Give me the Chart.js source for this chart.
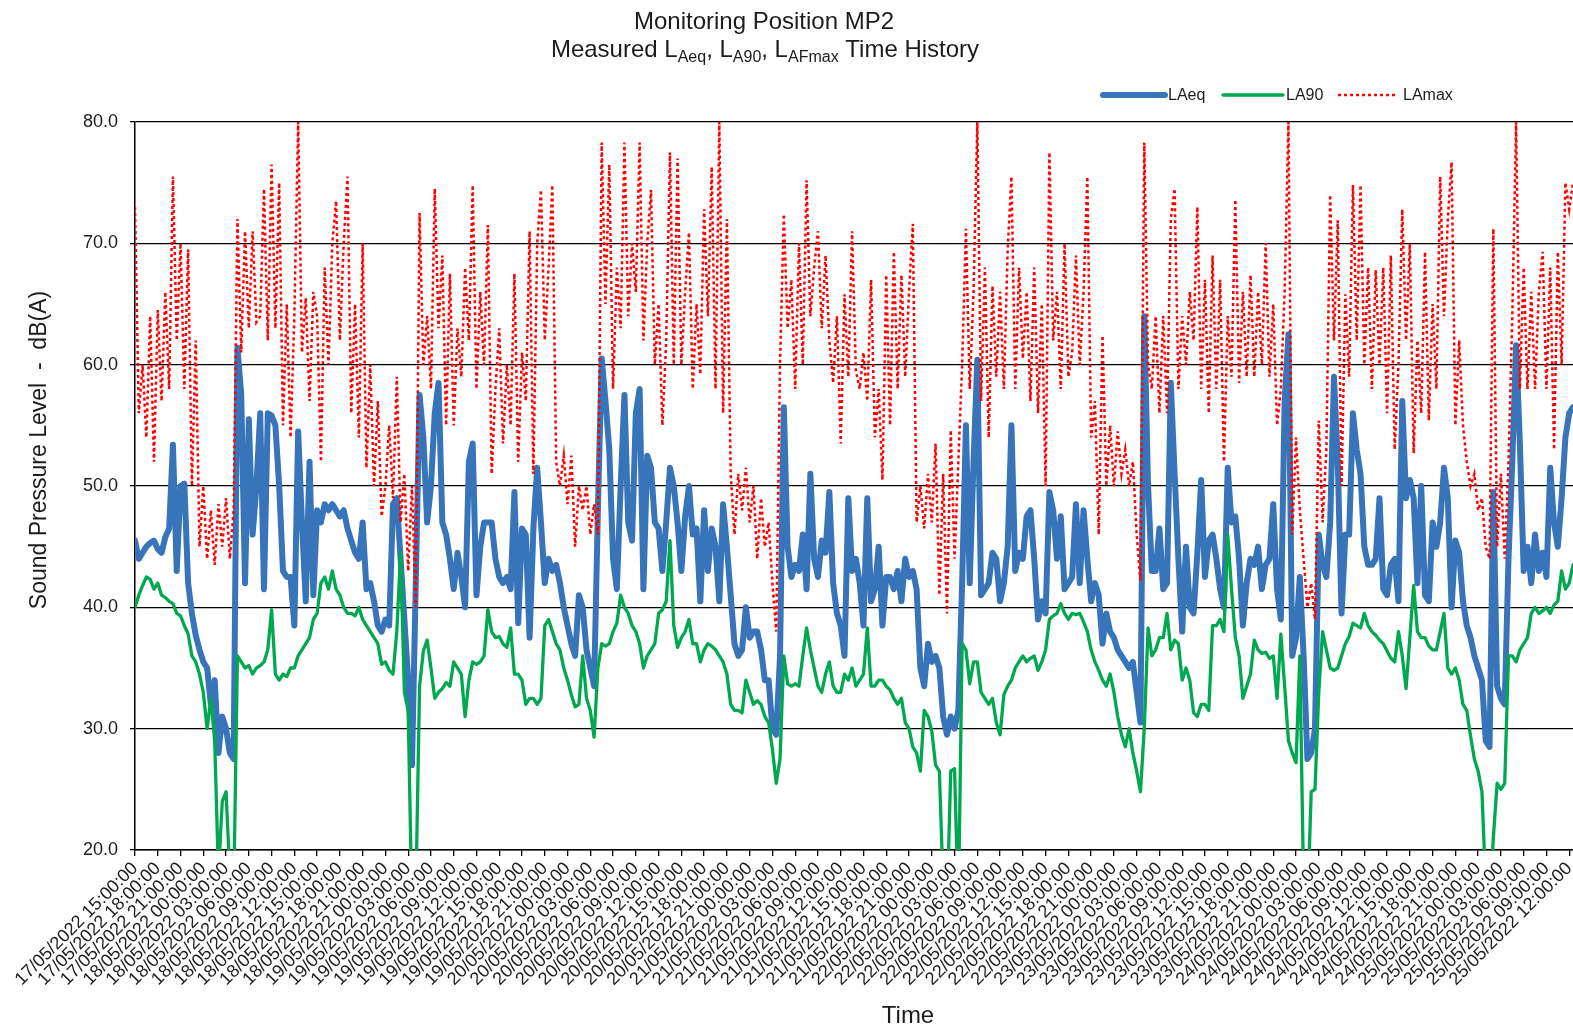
<!DOCTYPE html>
<html>
<head>
<meta charset="utf-8">
<title>Monitoring Position MP2</title>
<script src="https://cdn.jsdelivr.net/npm/chart.js@4.4.1/dist/chart.umd.min.js"></script>
<style>
  html, body { margin: 0; padding: 0; background: #fff; overflow: hidden; }
  #wrap { position: relative; width: 1573px; height: 1033px; }
</style>
</head>
<body>
<div id="wrap"><canvas id="mp2Chart"></canvas></div>
<script>
// x tick labels, one every 3 hours
const tickLabels = [
  '17/05/2022 15:00:00', '17/05/2022 18:00:00', '17/05/2022 21:00:00',
  '18/05/2022 00:00:00', '18/05/2022 03:00:00', '18/05/2022 06:00:00', '18/05/2022 09:00:00',
  '18/05/2022 12:00:00', '18/05/2022 15:00:00', '18/05/2022 18:00:00', '18/05/2022 21:00:00',
  '19/05/2022 00:00:00', '19/05/2022 03:00:00', '19/05/2022 06:00:00', '19/05/2022 09:00:00',
  '19/05/2022 12:00:00', '19/05/2022 15:00:00', '19/05/2022 18:00:00', '19/05/2022 21:00:00',
  '20/05/2022 00:00:00', '20/05/2022 03:00:00', '20/05/2022 06:00:00', '20/05/2022 09:00:00',
  '20/05/2022 12:00:00', '20/05/2022 15:00:00', '20/05/2022 18:00:00', '20/05/2022 21:00:00',
  '21/05/2022 00:00:00', '21/05/2022 03:00:00', '21/05/2022 06:00:00', '21/05/2022 09:00:00',
  '21/05/2022 12:00:00', '21/05/2022 15:00:00', '21/05/2022 18:00:00', '21/05/2022 21:00:00',
  '22/05/2022 00:00:00', '22/05/2022 03:00:00', '22/05/2022 06:00:00', '22/05/2022 09:00:00',
  '22/05/2022 12:00:00', '22/05/2022 15:00:00', '22/05/2022 18:00:00', '22/05/2022 21:00:00',
  '23/05/2022 00:00:00', '23/05/2022 03:00:00', '23/05/2022 06:00:00', '23/05/2022 09:00:00',
  '23/05/2022 12:00:00', '23/05/2022 15:00:00', '23/05/2022 18:00:00', '23/05/2022 21:00:00',
  '24/05/2022 00:00:00', '24/05/2022 03:00:00', '24/05/2022 06:00:00', '24/05/2022 09:00:00',
  '24/05/2022 12:00:00', '24/05/2022 15:00:00', '24/05/2022 18:00:00', '24/05/2022 21:00:00',
  '25/05/2022 00:00:00', '25/05/2022 03:00:00', '25/05/2022 06:00:00', '25/05/2022 09:00:00',
  '25/05/2022 12:00:00'
];

// readings every 30 minutes from 17/05/2022 15:00 (5 hours per row)
const STEP_HOURS = 0.5;

const laeq = [
  45.5, 44, 44.5, 45, 45.3, 45.5, 44.8, 44.5, 45.8, 46.5,
  53.4, 43, 50, 50.2, 42, 39.5, 37.7, 36.5, 35.5, 35,
  32, 34, 28, 31, 30, 28, 27.5, 61.4, 57.5, 42,
  55.5, 46, 50, 56, 41.5, 56, 55.8, 55, 50, 43,
  42.5, 42.5, 38.5, 54.5, 47, 40.5, 52, 41, 48, 47,
  48.5, 48, 48.5, 48, 47.5, 48, 46.5, 45.5, 44.5, 44,
  47, 41.5, 42, 40.5, 38.5, 38, 39, 38.5, 48.5, 49,
  44, 39, 34, 27, 42, 57.5, 54, 47, 50, 56,
  58.5, 47, 46, 44, 41.5, 44.5, 42.5, 40, 52, 53.5,
  41, 45, 47, 47, 47, 44, 42.5, 42, 42.5, 41.5,
  49.5, 38.7, 46.5, 46, 37.5, 46.5, 51.5, 47, 42, 44,
  43, 43.5, 42, 40, 38.5, 37, 36, 41, 40, 36.5,
  35, 33.5, 48, 60.5, 57, 53, 44, 41.5, 50, 57.5,
  47, 45.5, 56, 58, 41.5, 52.5, 51.5, 47, 46.5, 43,
  47, 51.5, 50, 47, 43, 47.5, 50, 46, 46.5, 40.5,
  48, 43, 46.5, 45, 40.5, 48.5, 45, 41, 37, 36,
  36.5, 40, 37.5, 38, 38, 36.5, 34, 34, 30, 29.5,
  36, 56.5, 45, 42.5, 43.5, 43, 46, 41.5, 51, 44,
  42.5, 45.5, 44.5, 49.5, 42, 39.5, 38.5, 36, 49, 43,
  44, 42, 38.5, 49, 40.5, 41.5, 45, 38.5, 42.5, 42.5,
  41.5, 43, 40.5, 44, 42.5, 43, 41.5, 35, 33.5, 37,
  35.5, 36, 35, 31, 29.5, 31, 30, 31.5, 42, 55,
  42, 52, 60.4, 41, 41.5, 42, 44.5, 44, 40.5, 42,
  45, 55, 43, 44.5, 44, 47.5, 48, 44, 39, 40.5,
  39.5, 49.5, 48, 44, 47.5, 41.5, 42, 42.5, 48.5, 42,
  48, 44, 40.5, 42, 41, 37, 39.5, 38, 37.5, 36.5,
  36, 35.5, 35, 35.5, 33, 30.5, 64, 50, 43, 43,
  46.5, 41.5, 42, 58.5, 51, 44, 38, 45, 40, 39.5,
  44.5, 50.5, 42.5, 45.5, 46, 44, 41.5, 40, 51.5, 47,
  47.5, 44, 38.5, 42, 44, 43.5, 45, 41.5, 43.5, 44,
  48.5, 41.5, 39, 57, 62.5, 36, 37.5, 42.5, 36, 27.5,
  28, 30, 46, 43.5, 42.5, 47, 59, 52, 39.5, 46,
  46, 56, 53, 51, 45, 43.5, 43.5, 44, 49, 41.5,
  41, 43.5, 44, 40.5, 57, 49, 50.5, 49, 42, 50,
  41, 40.5, 47, 45, 47, 51.5, 49, 40, 45.5, 44.5,
  40.5, 38.5, 37.5, 36, 35, 34, 29, 28.5, 49.5, 33.5,
  32.5, 32, 44, 52, 61.6, 53.5, 43, 45, 42, 46,
  43, 44.5, 42.5, 51.5, 47, 45, 49, 54, 56, 56.5
];

const la90 = [
  40, 41, 41.8, 42.5, 42.3, 41.5, 42, 41, 40.8, 40.5,
  40.3, 39.5, 39.3, 38.5, 37.8, 36, 35.5, 34.5, 33, 30,
  32.5, 29, 18, 24, 24.8, 18, 16, 36, 35.5, 35,
  35.2, 34.5, 35, 35.2, 35.5, 36.5, 39.8, 34.5, 34, 34.5,
  34.3, 35, 35, 36, 36.5, 37, 37.5, 39, 39.5, 42,
  42.5, 41.5, 43, 41.5, 41, 40, 39.5, 39.5, 39.3, 40,
  39, 38.5, 38, 37.5, 37, 35.3, 35.5, 34.8, 34.5, 38,
  44.5, 33, 31.5, 15, 16, 33.5, 36.4, 37.3, 35, 32.5,
  33, 33.3, 33.8, 33.5, 35.5, 35, 34.5, 31, 34, 35.5,
  35.3, 35.5, 36, 39.8, 38, 37.5, 37.6, 37, 36.7, 38.3,
  34.5, 34.5, 34, 32, 32.5, 32.5, 32, 32.5, 38.5, 39,
  38, 37, 36.5, 35, 34, 32.8, 31.8, 32, 36, 32.5,
  31.5, 29.3, 35, 37, 36.8, 37, 38, 38.7, 41, 40,
  39.5, 38.5, 38, 37, 35, 36, 36.5, 37, 39.5, 39.8,
  40.5, 45.5, 38.5, 36.7, 37.5, 38, 39, 37, 37, 35.5,
  36.5, 37, 36.8, 36.5, 36, 35.5, 34.5, 32, 31.5, 31.5,
  31.3, 34, 33, 32, 32.3, 32, 31, 30.5, 28.3, 25.5,
  27.5, 36, 33.7, 33.5, 33.7, 33.5, 36, 38.3, 36.5, 35,
  33.5, 33, 34.5, 35.5, 33.5, 33, 33, 34.5, 34, 35,
  33.5, 34, 34.5, 38.3, 33.5, 33.5, 34, 34, 33.5, 33.2,
  32.5, 32, 32.5, 30.5, 30, 28.5, 28, 26.5, 31.5, 31,
  29.8, 27, 26.5, 17, 15, 26.5, 26.7, 15, 37, 36.5,
  33.7, 35.5, 35.5, 33, 32.5, 32, 32.5, 30.5, 29.5, 32.8,
  33.5, 34, 35, 35.5, 36, 35.5, 35.8, 36, 34.8, 35.5,
  36.5, 39, 39.3, 39.5, 40.3, 39.5, 39, 39.5, 39.4, 39.5,
  38.8, 38, 36.5, 35.5, 34.8, 34, 33.5, 34.5, 33, 31,
  29.5, 28.5, 30, 28, 26.5, 24.8, 30, 38.3, 36, 36.5,
  37.5, 37.5, 39.5, 36.5, 37.3, 37, 34, 35, 34, 31.3,
  31, 32, 32, 31.5, 38.5, 38.5, 39, 38, 46, 41.5,
  37.5, 36, 32.5, 33.5, 34.5, 37.3, 36.5, 36.2, 36.3, 35.8,
  36, 32.5, 37.8, 33.5, 29, 28, 27.2, 36, 17, 15,
  24.8, 25, 33, 38, 36.5, 35, 34.8, 35, 36, 37,
  37.6, 38.7, 38.5, 38.3, 39.5, 38.5, 38, 37.7, 37.3, 37,
  36.4, 35.8, 35.5, 38, 36, 33.3, 37.5, 41.8, 38, 37.5,
  37.5, 36.8, 36.5, 36.5, 38, 39.5, 35, 34.5, 35, 34,
  32, 31.5, 29.4, 27.5, 26.5, 24.8, 17, 15, 21, 25.5,
  25, 25.5, 36, 36, 35.5, 36.5, 37, 37.5, 39.5, 40,
  39.5, 39.7, 40, 39.5, 40.2, 40.5, 43, 41.5, 42, 43.5
];

const lamax = [
  73, 56, 60, 54, 64, 52, 64.5, 57, 66, 58,
  75.5, 62, 70, 58, 69.5, 50, 62, 45, 50, 44,
  48, 43.5, 48.5, 45, 49, 44, 48, 72, 61, 71,
  63, 71, 63.5, 64, 74.5, 62, 76.5, 63, 75, 55,
  65, 54, 64, 80, 61, 65.5, 57, 66, 64, 52,
  68, 60, 70, 73.5, 62, 70, 75.5, 56, 65, 54,
  70, 51.5, 60, 50, 57, 47.5, 50, 55, 49, 59,
  47, 51, 43, 50, 40, 72.5, 60, 64, 58, 74.5,
  63, 69, 55, 67.5, 55, 63, 59, 68, 62, 74.8,
  58, 66, 60, 71.5, 51, 58, 63, 53.5, 60, 55,
  67.5, 52, 61, 57, 71, 51, 70, 74.4, 62, 68,
  74.8, 52, 50, 52.5, 48.5, 52.5, 45, 50, 48, 50,
  46, 48.5, 46, 78.3, 65, 76.5, 58, 68, 63, 78.3,
  64, 70, 66, 78.3, 62, 70, 74.4, 60, 65, 55,
  61.9, 77.5, 60, 77, 60, 66, 70.9, 58, 65, 59.2,
  72.8, 64, 76.3, 58, 80, 56, 72, 51, 46, 51,
  48, 51.5, 47, 50, 44, 49, 45, 47, 42, 38,
  60, 72.4, 63, 67, 58, 70, 60, 75.2, 64, 68,
  71, 63, 69, 62, 58.5, 64, 53.5, 65.8, 59, 71,
  59.5, 58, 61, 57, 67, 54, 58, 50.5, 67.4, 55,
  69.3, 58, 67.4, 59, 66, 71.6, 47, 50, 46.5, 51,
  47, 53.5, 41, 51, 39.5, 54.6, 44, 52, 60, 71.2,
  58, 66, 80, 57, 68, 54, 66.5, 59, 66, 58,
  69.5, 75.5, 58, 68, 60.5, 66, 57, 68, 56, 65,
  50, 77.5, 62, 66, 58, 70, 59, 61, 69, 60,
  66, 75.5, 54, 57, 46, 62.4, 50, 55, 50, 54.5,
  51, 53, 50, 52, 46, 42.2, 78.3, 60, 58, 64,
  56, 64, 56, 72, 74.5, 58, 64, 60, 66, 62,
  73, 58, 67, 56, 69, 58, 67, 52, 64, 59,
  73.6, 58.5, 66, 59, 67.4, 59, 66, 60, 70, 59,
  65, 55, 58, 66, 80, 46, 54, 48, 44, 40,
  42, 39, 55.4, 47, 53, 74, 62, 71.9, 50, 65.8,
  59, 74.8, 62, 74.8, 60, 68, 58, 67.8, 60, 68,
  56, 69, 53, 60, 72.8, 62, 70, 52.7, 62, 56,
  69.3, 55.4, 65, 58, 75.5, 64, 72, 76.7, 55, 62,
  55, 52, 50, 51, 48, 49, 45, 44, 71.2, 45,
  51, 44, 52, 64, 80, 58, 68, 58, 66, 58,
  66, 69.3, 58, 68, 53, 69.3, 60, 75, 72.8, 75
];

const FONT = '"Liberation Sans", Arial, Helvetica, sans-serif';
const TEXT_COLOR = '#1c1c1c';

const toPoints = (values) => values.map((y, i) => ({ x: i * STEP_HOURS, y: y }));

// title, legend and axis titles are painted by hand (subscripts, off-centre placement)
const decorPlugin = {
    id: 'mp2Decor',
    afterDraw: function (chart) {
        const ctx = chart.ctx;
        ctx.save();
        ctx.fillStyle = TEXT_COLOR;

        // Title line 1
        ctx.textAlign = 'center';
        ctx.textBaseline = 'alphabetic';
        ctx.font = '24px ' + FONT;
        ctx.fillText('Monitoring Position MP2', 764, 29);

        // Title line 2 with subscripts
        const parts = [
            ['Measured L', false], ['Aeq', true], [', L', false], ['A90', true],
            [', L', false], ['AFmax', true], [' Time History', false]
        ];
        const fontFor = (sub) => (sub ? '16px ' : '24px ') + FONT;
        let total = 0;
        parts.forEach(p => { ctx.font = fontFor(p[1]); total += ctx.measureText(p[0]).width; });
        let x = 765 - total / 2;
        ctx.textAlign = 'left';
        parts.forEach(p => {
            ctx.font = fontFor(p[1]);
            ctx.fillText(p[0], x, p[1] ? 62 : 57);
            x += ctx.measureText(p[0]).width;
        });

        // Legend
        const legendY = 95;
        const legendItems = [
            { ds: 0, x0: 1103, x1: 1165, tx: 1168 },
            { ds: 1, x0: 1223, x1: 1283, tx: 1286 },
            { ds: 2, x0: 1338, x1: 1398, tx: 1403 }
        ];
        legendItems.forEach(item => {
            const ds = chart.data.datasets[item.ds];
            ctx.save();
            ctx.strokeStyle = ds.borderColor;
            ctx.lineWidth = ds.borderWidth;
            ctx.lineCap = ds.borderDash ? 'butt' : 'round';
            ctx.setLineDash(ds.borderDash || []);
            ctx.beginPath();
            ctx.moveTo(item.x0, legendY);
            ctx.lineTo(item.x1, legendY);
            ctx.stroke();
            ctx.restore();
            ctx.font = '16px ' + FONT;
            ctx.textAlign = 'left';
            ctx.textBaseline = 'middle';
            ctx.fillText(ds.label, item.tx, legendY + 1);
        });

        // Y axis title
        ctx.save();
        ctx.translate(40, 450);
        ctx.rotate(-Math.PI / 2);
        ctx.textAlign = 'center';
        ctx.textBaseline = 'middle';
        ctx.font = '23px ' + FONT;
        ctx.fillText('Sound Pressure Level  -  dB(A)', 0, 0);
        ctx.restore();

        // X axis title
        ctx.textAlign = 'center';
        ctx.textBaseline = 'middle';
        ctx.font = '24px ' + FONT;
        ctx.fillText('Time', 908, 1016);

        ctx.restore();
    }
};

const ctxMp2 = document.getElementById('mp2Chart');
new Chart(ctxMp2, {
    type: 'line',
    data: {
        datasets: [{
            label: 'LAeq',
            data: toPoints(laeq),
            borderColor: '#3874b9',
            borderWidth: 6,
            borderJoinStyle: 'round',
            borderCapStyle: 'round',
            pointRadius: 0,
            order: 3
        }, {
            label: 'LA90',
            data: toPoints(la90),
            borderColor: '#00a84f',
            borderWidth: 3.3,
            borderJoinStyle: 'round',
            borderCapStyle: 'round',
            pointRadius: 0,
            clip: 0,
            order: 2
        }, {
            label: 'LAmax',
            data: toPoints(lamax),
            borderColor: '#ff0000',
            borderWidth: 2.5,
            borderDash: [3, 3],
            pointRadius: 0,
            order: 1
        }]
    },
    options: {
        responsive: true,
        maintainAspectRatio: false,
        animation: false,
        devicePixelRatio: 1,
        layout: { padding: { top: 122, left: 0, right: 0, bottom: 0 } },
        plugins: {
            legend: { display: false },
            title: { display: false },
            tooltip: { enabled: false }
        },
        scales: {
            x: {
                type: 'linear',
                min: 0,
                max: 189.5,
                grid: { drawOnChartArea: false, color: '#000', lineWidth: 1.3, tickLength: 6 },
                border: { color: '#000', width: 1.5 },
                ticks: {
                    stepSize: 3,
                    maxTicksLimit: 100,
                    includeBounds: false,
                    autoSkip: false,
                    minRotation: 45,
                    maxRotation: 45,
                    padding: 2,
                    color: TEXT_COLOR,
                    font: { family: FONT, size: 18 },
                    callback: (value) => tickLabels[Math.round(value / 3)] || ''
                },
                afterFit: (scale) => {
                    scale.height = 183;
                    scale.paddingLeft = 0;
                    scale.paddingRight = 0;
                }
            },
            y: {
                min: 20,
                max: 80,
                grid: { color: '#000', lineWidth: 1.3, tickLength: 5 },
                border: { color: '#000', width: 1.5 },
                ticks: {
                    stepSize: 10,
                    padding: 12,
                    color: TEXT_COLOR,
                    font: { family: FONT, size: 18 },
                    callback: (value) => value.toFixed(1)
                },
                afterFit: (scale) => { scale.width = 135; }
            }
        }
    },
    plugins: [decorPlugin]
});
</script>
</body>
</html>
